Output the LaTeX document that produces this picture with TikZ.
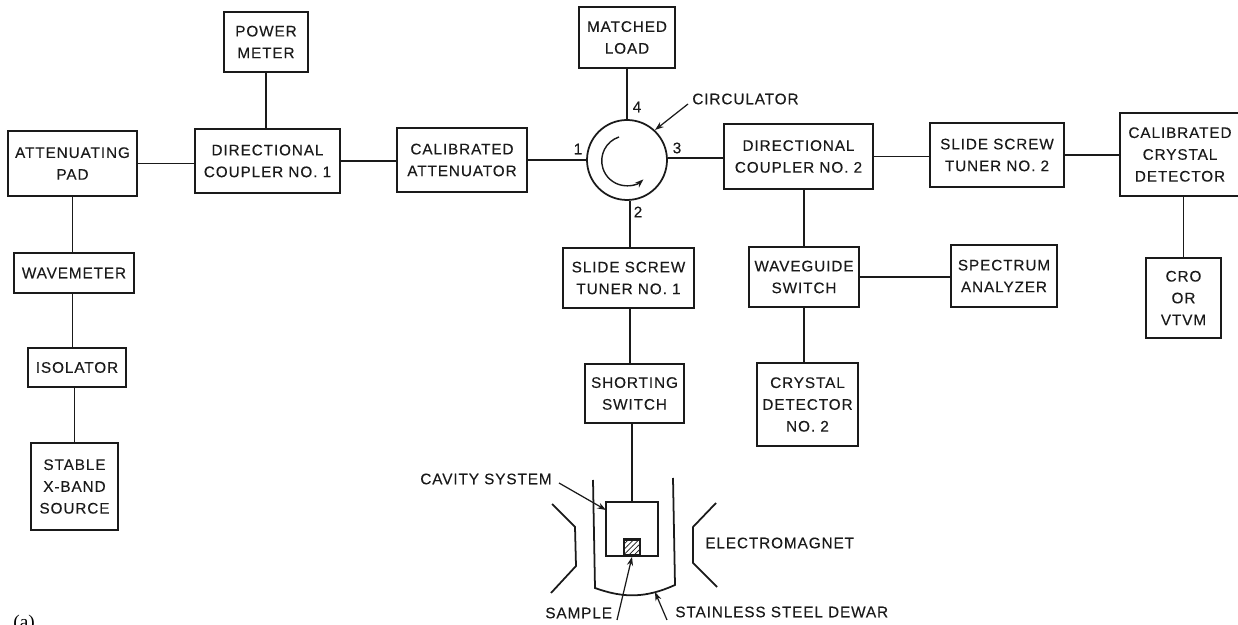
\documentclass[tikz,border=0pt]{standalone}
\usepackage{fontspec}
\setmainfont{Liberation Sans}[LetterSpace=6,FakeBold=0.25]
\newfontfamily\figfont{Liberation Serif}
\usetikzlibrary{arrows.meta,calc,patterns}
\definecolor{ink}{HTML}{1A1A1A}

\begin{document}
\begin{tikzpicture}[
    line cap=butt, line join=miter,
    wire/.style={ink, line width=1pt},
    unit/.style={draw=ink, line width=1pt, align=center, inner sep=0pt, text=ink,
        font=\fontsize{8.7}{12.4}\selectfont},
    tag/.style={inner sep=0pt, text=ink, font=\fontsize{8.7}{10}\selectfont},
    leader/.style={ink, line width=0.7pt, -{Stealth[length=5pt,width=3.5pt]}},
]
\useasboundingbox (0,0) rectangle (24.76,12.5);

% Source arm
\node[unit, minimum width=2.58cm, minimum height=1.30cm] (pad) at (1.45,9.23) {ATTENUATING\\PAD};
\node[unit, minimum width=2.4cm, minimum height=0.8cm] (wavemeter) at (1.48,7.04) {WAVEMETER};
\node[unit, minimum width=1.96cm, minimum height=0.78cm] (isolator) at (1.54,5.15) {ISOLATOR};
\node[unit, minimum width=1.74cm, minimum height=1.74cm] (source) at (1.49,2.77) {STABLE\\X-BAND\\SOURCE};

% Top row
\node[unit, minimum width=1.68cm, minimum height=1.2cm] (power) at (5.32,11.66) {POWER\\METER};
\node[unit, minimum width=2.9cm, minimum height=1.28cm] (coupA) at (5.35,9.28) {DIRECTIONAL\\COUPLER NO. 1};
\node[unit, minimum width=2.6cm, minimum height=1.28cm] (atten) at (9.24,9.30) {CALIBRATED\\ATTENUATOR};
\node[unit, minimum width=1.92cm, minimum height=1.22cm] (load) at (12.54,11.75) {MATCHED\\LOAD};
\node[draw=ink, line width=1pt, circle, minimum size=1.6cm, inner sep=0pt] (circ) at (12.54,9.30) {};
\node[unit, minimum width=2.98cm, minimum height=1.30cm] (coupB) at (15.97,9.37) {DIRECTIONAL\\COUPLER NO. 2};
\node[unit, minimum width=2.68cm, minimum height=1.28cm] (tunerB) at (19.94,9.40) {SLIDE SCREW\\TUNER NO. 2};
\node[unit, minimum width=2.4cm, minimum height=1.66cm] (calcry) at (23.60,9.41) {CALIBRATED\\CRYSTAL\\DETECTOR};

% Lower rows
\node[unit, minimum width=2.62cm, minimum height=1.2cm] (tunerA) at (12.57,6.94) {SLIDE SCREW\\TUNER NO. 1};
\node[unit, minimum width=1.98cm, minimum height=1.18cm] (short) at (12.69,4.63) {SHORTING\\SWITCH};
\node[unit, minimum width=2.2cm, minimum height=1.2cm] (guide) at (16.08,6.96) {WAVEGUIDE\\SWITCH};
\node[unit, minimum width=2.12cm, minimum height=1.24cm] (spec) at (20.08,6.98) {SPECTRUM\\ANALYZER};
\node[unit, minimum width=2.02cm, minimum height=1.66cm] (crystal) at (16.15,4.41) {CRYSTAL\\DETECTOR\\NO. 2};
\node[unit, minimum width=1.5cm, minimum height=1.6cm] (cro) at (23.67,6.54) {CRO\\OR\\VTVM};

% Cavity
\node[draw=ink, line width=1pt, inner sep=0pt, minimum width=1.04cm, minimum height=1.08cm] (cavity) at (12.64,1.92) {};
\node[draw=ink, line width=1.5pt, inner sep=0pt, minimum width=0.32cm, minimum height=0.32cm,
    anchor=south, pattern=north east lines, pattern color=ink] (sample) at (cavity.south) {};

% Connectors
\draw[wire] (pad.east) -- (pad.east -| coupA.west);
\draw[wire] (coupA.east) -- (coupA.east -| atten.west);
\draw[wire] (atten.east) -- (atten.east -| circ.west);
\draw[wire] ([yshift=0.04cm]circ.east) -- ([yshift=0.04cm]circ.east -| coupB.west);
\draw[wire] (coupB.east) -- (coupB.east -| tunerB.west);
\draw[wire] (tunerB.east) -- (tunerB.east -| calcry.west);
\draw[wire] (power.south) -- (power.south |- coupA.north);
\draw[wire] (load.south) -- (load.south |- circ.north);
\draw[wire] ([xshift=0.06cm]circ.south) -- ([xshift=0.06cm]circ.south |- tunerA.north);
\draw[wire] ([xshift=0.03cm]tunerA.south) -- ([xshift=0.03cm]tunerA.south |- short.north);
\draw[wire] (cavity.north) -- (cavity.north |- short.south);
\draw[wire] (guide.north) -- (guide.north |- coupB.south);
\draw[wire] (guide.east) -- (guide.east -| spec.west);
\draw[wire] (guide.south) -- (guide.south |- crystal.north);
\draw[wire] (cro.north) -- (cro.north |- calcry.south);
\draw[wire] (pad.south) -- (pad.south |- wavemeter.north);
\draw[wire] ([xshift=-0.03cm]wavemeter.south) -- ([xshift=-0.03cm]wavemeter.south |- isolator.north);
\draw[wire] (source.north) -- (source.north |- isolator.south);

% Port numbers
\node[tag] (portA) at (11.56,9.52) {1};
\node[tag] (portB) at (12.76,8.26) {2};
\node[tag] (portC) at (13.54,9.54) {3};
\node[tag] (portD) at (12.74,10.36) {4};

% Circulator sense
\draw[ink, line width=0.8pt, -{Stealth[length=5pt,width=3.5pt]}]
    (12.38,9.76) arc[start angle=108, end angle=312, radius=0.5];

% Dewar and magnet
\draw[wire] (11.86,2.90) -- (11.90,0.74) to[bend right=22] (13.50,0.80) -- (13.46,2.94);
\draw[wire] (11.04,2.42) -- (11.50,1.96) -- (11.52,1.18) -- (11.02,0.64);
\draw[wire] (14.32,2.44) -- (13.86,1.96) -- (13.86,1.24) -- (14.34,0.76);

% Text with leaders
\node[tag, anchor=west] (cavitytxt) at (8.40,2.92) {CAVITY SYSTEM};
\node[tag, anchor=west] (magnettxt) at (14.10,1.64) {ELECTROMAGNET};
\node[tag, anchor=west] (sampletxt) at (10.90,0.24) {SAMPLE};
\node[tag, anchor=west] (dewartxt) at (13.50,0.26) {STAINLESS STEEL DEWAR};
\node[tag, anchor=west] (circtxt) at (13.84,10.52) {CIRCULATOR};
\node[inner sep=0pt, anchor=west, font=\figfont\fontsize{11}{12}\selectfont] (figtxt) at (0.26,0.02) {(a)};

\coordinate (cavityend) at (12.12,2.30);
\coordinate (circend) at (13.10,9.90);
\coordinate (dewarend) at (13.10,0.66);
\draw[leader] (11.18,2.84) -- (cavityend);
\draw[leader] (13.76,10.42) -- (circend);
\draw[leader] (12.34,0.10) -- (sample.south);
\draw[leader] (13.34,0.10) -- (dewarend);

\end{tikzpicture}
\end{document}
